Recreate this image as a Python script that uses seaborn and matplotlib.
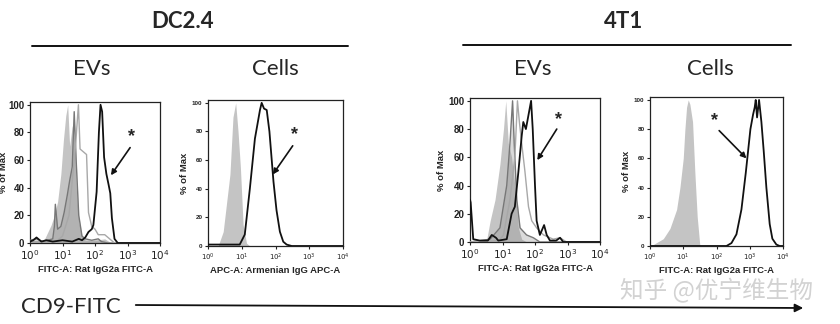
import numpy as np
import pandas as pd
import matplotlib
matplotlib.use("Agg")
import matplotlib.pyplot as plt
import seaborn as sns
from matplotlib.lines import Line2D
from matplotlib.patches import FancyArrowPatch

sns.set_style("ticks")
plt.rcParams['font.family'] = ['Liberation Sans', 'DejaVu Sans']

# ---------------- data (x in log10 decades, y in % of max) ----------------
# Panel 1: DC2.4 EVs
p1_iso_lx = [0.0, 0.3, 0.45, 0.55, 0.65, 0.75, 0.85, 0.95, 1.03, 1.1, 1.16, 1.22, 1.3, 1.36, 1.42, 1.5, 1.6, 1.7, 1.8, 2.0, 2.3, 2.5, 4.0]
p1_iso_y = [1, 1, 3, 8, 13, 20, 30, 50, 75, 92, 100, 70, 85, 75, 40, 15, 5, 2, 2, 2, 3, 0, 0]
p1_dark_lx = [0.0, 0.2, 0.4, 0.7, 0.75, 0.78, 0.85, 0.95, 1.05, 1.15, 1.22, 1.3, 1.36, 1.42, 1.5, 1.6, 1.7, 1.9, 2.1, 2.2, 2.4, 4.0]
p1_dark_y = [2, 3, 1, 3, 12, 28, 10, 12, 22, 35, 45, 55, 95, 60, 20, 5, 3, 2, 3, 1, 0, 0]
p1_light_lx = [0.0, 0.8, 1.0, 1.2, 1.3, 1.4, 1.49, 1.54, 1.64, 1.74, 1.8, 1.9, 2.0, 2.1, 2.3, 2.45, 2.6, 4.0]
p1_light_y = [1, 1, 5, 20, 45, 70, 100, 68, 66, 64, 22, 12, 10, 6, 6, 3, 0, 0]
p1_cd9_lx = [0.0, 0.1, 0.2, 0.35, 0.5, 0.7, 1.0, 1.3, 1.5, 1.6, 1.7, 1.8, 1.9, 1.95, 2.05, 2.12, 2.17, 2.22, 2.28, 2.35, 2.42, 2.47, 2.52, 2.6, 2.7, 4.0]
p1_cd9_y = [1, 2, 4, 1, 2, 1, 2, 1, 3, 2, 4, 8, 10, 13, 37, 80, 100, 95, 62, 50, 42, 36, 18, 3, 0, 0]

# Panel 2: DC2.4 Cells
p2_iso_lx = [0.0, 0.3, 0.45, 0.55, 0.65, 0.74, 0.82, 0.89, 0.96, 1.04, 1.14, 1.24, 4.0]
p2_iso_y = [0, 0, 10, 30, 50, 90, 100, 80, 55, 15, 2, 0, 0]
p2_cd9_lx = [0.0, 0.5, 0.94, 1.09, 1.24, 1.39, 1.54, 1.59, 1.66, 1.74, 1.82, 1.94, 2.03, 2.13, 2.23, 2.33, 2.48, 4.0]
p2_cd9_y = [1, 1, 1, 8, 40, 75, 95, 100, 96, 95, 80, 45, 25, 10, 3, 1, 0, 0]

# Panel 3: 4T1 EVs
p3_iso_lx = [0.0, 0.5, 0.62, 0.77, 0.92, 1.03, 1.1, 1.18, 1.28, 1.38, 1.49, 1.59, 1.75, 4.0]
p3_iso_y = [0, 0, 15, 30, 55, 80, 100, 70, 60, 40, 10, 2, 0, 0]
p3_dark_lx = [0.0, 0.62, 0.92, 1.13, 1.23, 1.31, 1.36, 1.44, 1.54, 1.74, 1.95, 2.15, 4.0]
p3_dark_y = [0, 2, 10, 40, 70, 100, 70, 30, 10, 5, 3, 0, 0]
p3_light_lx = [0.0, 0.9, 1.03, 1.23, 1.38, 1.46, 1.52, 1.59, 1.69, 1.8, 1.9, 2.05, 2.26, 2.56, 2.77, 2.97, 4.0]
p3_light_y = [0, 1, 5, 30, 60, 100, 85, 70, 50, 25, 15, 10, 5, 2, 3, 0, 0]
p3_cd9_lx = [0.0, 0.02, 0.1, 0.3, 0.55, 0.67, 0.8, 0.87, 1.13, 1.28, 1.38, 1.49, 1.59, 1.64, 1.72, 1.8, 1.88, 1.93, 2.0, 2.05, 2.15, 2.28, 2.36, 2.46, 2.65, 2.77, 2.87, 4.0]
p3_cd9_y = [30, 28, 2, 1, 1, 5, 3, 1, 2, 20, 25, 50, 75, 85, 80, 90, 100, 80, 40, 15, 5, 12, 5, 1, 1, 3, 0, 0]

# Panel 4: 4T1 Cells
p4_iso_lx = [0.0, 0.1, 0.4, 0.6, 0.8, 0.9, 1.0, 1.05, 1.1, 1.15, 1.2, 1.28, 1.35, 1.42, 1.48, 1.5, 4.0]
p4_iso_y = [0, 1, 5, 12, 25, 40, 60, 80, 95, 100, 97, 85, 50, 20, 5, 0, 0]
p4_cd9_lx = [0.0, 2.3, 2.45, 2.6, 2.75, 2.88, 2.95, 3.02, 3.1, 3.15, 3.18, 3.22, 3.28, 3.35, 3.42, 3.5, 3.6, 3.68, 3.8, 3.9, 4.0]
p4_cd9_y = [0, 0, 2, 8, 25, 50, 65, 80, 90, 95, 100, 88, 100, 85, 65, 40, 15, 5, 1, 0, 0]

# annotation positions (log10 x, y): star, arrow start, arrow tip
stars = [(3.13, 77), (2.56, 78), (2.72, 87), (1.93, 86)]
arrows = [((3.08, 69), (2.49, 49)), ((2.51, 70), (1.92, 50)),
          ((2.67, 80), (2.07, 58)), ((2.08, 79), (2.9, 60))]
xlabels = ["FITC-A: Rat IgG2a FITC-A", "APC-A: Armenian IgG APC-A",
           "FITC-A: Rat IgG2a FITC-A", "FITC-A: Rat IgG2a FITC-A"]
ytick_vals = [0, 20, 40, 60, 80, 100]
xtick_labels = [r'$10^{0}$', r'$10^{1}$', r'$10^{2}$', r'$10^{3}$', r'$10^{4}$']

W, H = 840, 324
fig = plt.figure(figsize=(W / 100, H / 100), dpi=100)


def frac_box(l, r, t, b):
    return [l / W, 1 - b / H, (r - l) / W, (b - t) / H]


boxes = [frac_box(30, 160, 102, 243), frac_box(208, 343, 100, 246),
         frac_box(470, 600, 98, 242), frac_box(650, 783, 97, 246)]
tick_sizes = [7, 4.5, 7, 4.5]
ylabel_pads = [0.5, 2, 2, 2]

ISO = '#c4c4c4'
DARK = '#777777'
LIGHT = '#a8a8a8'

panels = [
    dict(iso=(p1_iso_lx, p1_iso_y), dark=(p1_dark_lx, p1_dark_y), light=(p1_light_lx, p1_light_y), cd9=(p1_cd9_lx, p1_cd9_y)),
    dict(iso=(p2_iso_lx, p2_iso_y), cd9=(p2_cd9_lx, p2_cd9_y)),
    dict(iso=(p3_iso_lx, p3_iso_y), dark=(p3_dark_lx, p3_dark_y), light=(p3_light_lx, p3_light_y), cd9=(p3_cd9_lx, p3_cd9_y)),
    dict(iso=(p4_iso_lx, p4_iso_y), cd9=(p4_cd9_lx, p4_cd9_y)),
]


def lin(lx):
    return 10 ** np.asarray(lx, dtype=float)


for i, (box, pdata) in enumerate(zip(boxes, panels)):
    ax = fig.add_axes(box)
    ax.set_xscale('log')
    lx, y = pdata['iso']
    ax.fill_between(lin(lx), y, 0, color=ISO, lw=0, zorder=1)
    if 'dark' in pdata:
        lx, y = pdata['dark']
        ax.fill_between(lin(lx), y, 0, color='#8a8a8a', alpha=0.3, lw=0, zorder=2)
        sns.lineplot(x=lin(lx), y=y, ax=ax, color=DARK, lw=1.0, estimator=None, sort=False, zorder=3)
    if 'light' in pdata:
        lx, y = pdata['light']
        sns.lineplot(x=lin(lx), y=y, ax=ax, color=LIGHT, lw=1.0, estimator=None, sort=False, zorder=3)
    lx, y = pdata['cd9']
    sns.lineplot(x=lin(lx), y=y, ax=ax, color='#111111', lw=1.3, estimator=None, sort=False, zorder=4)

    ax.set_xlim(1, 1e4)
    ax.set_ylim(0, 102)
    ax.set_yticks(ytick_vals)
    ax.set_yticklabels([str(v) for v in ytick_vals], fontsize=tick_sizes[i], fontweight='bold')
    ax.set_xticks([1, 10, 100, 1000, 10000])
    ax.set_xticklabels(xtick_labels, fontsize=tick_sizes[i] + 0.5)
    ax.tick_params(axis='both', which='major', length=2.5, width=0.8, pad=1.5, colors='#222222')
    ax.tick_params(axis='x', which='minor', length=1.5, width=0.6)
    ax.set_xlabel(xlabels[i], fontsize=6.8, fontweight='bold', labelpad=2)
    ax.set_ylabel('% of Max', fontsize=6.8, fontweight='bold', labelpad=ylabel_pads[i])
    for s in ax.spines.values():
        s.set_linewidth(0.9)
        s.set_color('#222222')

    sx, sy = stars[i]
    ax.text(10 ** sx, sy, '*', fontsize=13, fontweight='bold', ha='center', va='center')
    (ax0, ay0), (ax1, ay1) = arrows[i]
    ax.annotate('', xy=(10 ** ax1, ay1), xytext=(10 ** ax0, ay0),
                arrowprops=dict(arrowstyle='-|>', lw=1.2, color='#111111', mutation_scale=8,
                                shrinkA=0, shrinkB=0))

# ---------------- headers ----------------
hfont = ['Lato', 'DejaVu Sans']


def ftxt(x, y, s, **kw):
    fig.text(x / W, 1 - y / H, s, ha='center', va='center', family=hfont, **kw)


ftxt(183, 22, 'DC2.4', fontsize=16, fontweight='bold')
ftxt(624, 22, '4T1', fontsize=16, fontweight='bold')
fig.add_artist(Line2D([32 / W, 348 / W], [1 - 46 / H] * 2, color='#111111', lw=1.4))
fig.add_artist(Line2D([463 / W, 791 / W], [1 - 45 / H] * 2, color='#111111', lw=1.4))
ftxt(92, 69, 'EVs', fontsize=16)
ftxt(275, 69, 'Cells', fontsize=16)
ftxt(533, 69, 'EVs', fontsize=16)
ftxt(710, 69, 'Cells', fontsize=16)

fig.text(21 / W, 1 - 307 / H, 'CD9-FITC', ha='left', va='center', family=hfont, fontsize=16)
fig.add_artist(FancyArrowPatch((133 / W, 1 - 305 / H), (806 / W, 1 - 308 / H),
                               transform=fig.transFigure, arrowstyle='-|>',
                               mutation_scale=12, lw=1.3, color='#111111'))

fig.text(717 / W, 1 - 291 / H, '知乎 @优宁维生物', ha='center', va='center',
         family=['Noto Sans CJK SC', 'DejaVu Sans'], fontsize=17, color='#d2d2d2',
         fontweight='light')

fig.savefig('out.png', dpi=100)
